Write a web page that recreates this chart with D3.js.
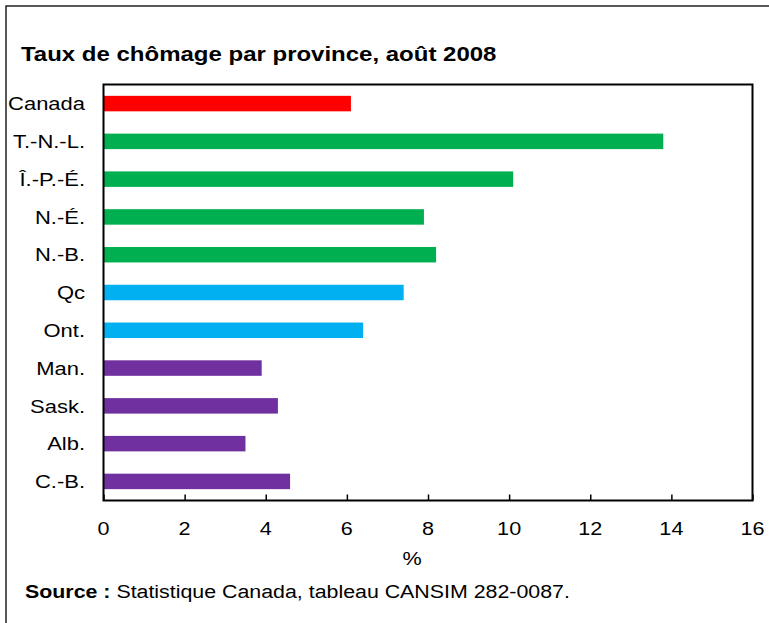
<!DOCTYPE html>
<html><head><meta charset="utf-8">
<script src="https://cdn.jsdelivr.net/npm/d3@7"></script>
<style>body{margin:0;background:#fff}svg{display:block}text{font-family:"Liberation Sans",Arial,sans-serif;fill:#000}</style>
</head><body><svg id="c" width="769" height="623"></svg>
<script>
const categories = ["Canada","T.-N.-L.","Î.-P.-É.","N.-É.","N.-B.","Qc","Ont.","Man.","Sask.","Alb.","C.-B."];
const values = [6.1,13.8,10.1,7.9,8.2,7.4,6.4,3.9,4.3,3.5,4.6];
const groups = ["canada","atl","atl","atl","atl","central","central","west","west","west","west"];
const groupColors = {canada:"#FF0000",atl:"#00B050",central:"#00B0F0",west:"#7030A0"};
const xTicks = [0,2,4,6,8,10,12,14,16];
const title = "Taux de chômage par province, août 2008";
const xLabel = "%";
const sourceBold = "Source :";
const sourceText = " Statistique Canada, tableau CANSIM 282-0087.";

const svg = d3.select("#c");
const stretch = 1.2;
const L = 103.5, R = 752.5, T = 84.5, B = 500.5;

svg.append("rect").attr("x",6).attr("y",6).attr("width",800).attr("height",700)
  .attr("fill","none").attr("stroke","#000").attr("stroke-width",1.3);

function stext(x, y, anchor){
  return svg.append("text").attr("transform",`translate(${x},${y}) scale(${stretch},1)`).attr("text-anchor",anchor);
}

stext(21,60.5,"start").attr("font-size",20).attr("font-weight","bold").text(title);

const x = d3.scaleLinear().domain([0,16]).range([L,R]);
const y = d3.scaleBand().domain(categories).range([T,B]).paddingInner(0.59).paddingOuter(0.3);

svg.append("g").selectAll("rect").data(categories).join("rect")
  .attr("x",x(0)).attr("y",d=>y(d)).attr("height",y.bandwidth())
  .attr("width",(d,i)=>x(values[i])-x(0))
  .attr("fill",(d,i)=>groupColors[groups[i]]);

// frame
svg.append("rect").attr("x",L).attr("y",T).attr("width",R-L).attr("height",B-T)
  .attr("fill","none").attr("stroke","#000").attr("stroke-width",2);

// x axis ticks inside
const ax = svg.append("g").attr("transform",`translate(0,${B})`)
  .call(d3.axisBottom(x).tickValues(xTicks).tickSizeInner(-6).tickSizeOuter(0).tickFormat(d3.format("d")));
ax.select(".domain").remove();
ax.selectAll("line").attr("stroke","#000").attr("stroke-width",1.5);
ax.selectAll("text").remove();
xTicks.forEach(t=>{ stext(x(t),535,"middle").attr("font-size",18).text(t); });

// category labels
categories.forEach(c=>{ stext(85, y(c)+y.bandwidth()/2+6.7,"end").attr("font-size",18.3).text(c); });

stext(412,565,"middle").attr("font-size",18).text(xLabel);

const s = stext(25,597.5,"start").attr("font-size",17.8);
s.append("tspan").attr("font-weight","bold").text(sourceBold);
s.append("tspan").text(sourceText);
</script></body></html>
